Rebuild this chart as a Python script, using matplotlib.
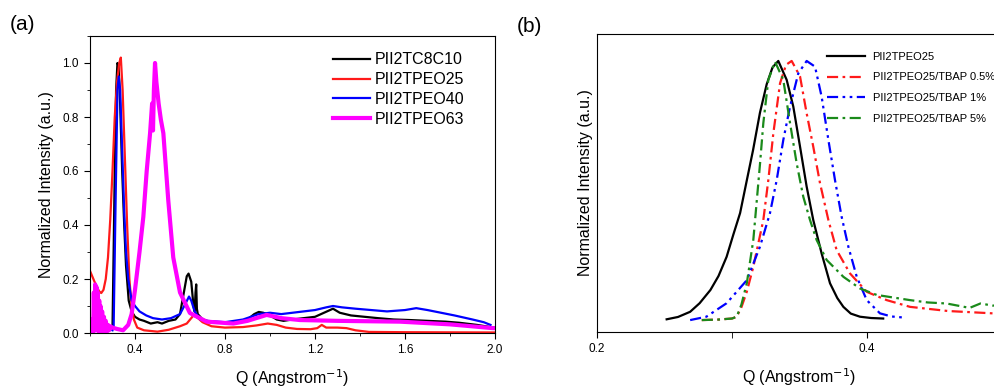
import numpy as np
import matplotlib
matplotlib.use("Agg")
import matplotlib.pyplot as plt
from matplotlib.ticker import MultipleLocator

plt.rcParams['font.family'] = ['Liberation Sans', 'DejaVu Sans']

# ---- panel (a) data ----
q_c8 = [0.300, 0.305, 0.310, 0.316, 0.322, 0.327, 0.334, 0.343, 0.352, 0.360, 0.372, 0.385,
        0.400, 0.420, 0.440, 0.470, 0.500, 0.520, 0.550, 0.580, 0.600, 0.615, 0.630, 0.638,
        0.650, 0.660, 0.665, 0.669, 0.672, 0.675, 0.679, 0.690, 0.700, 0.720, 0.750, 0.800,
        0.850, 0.900, 0.930, 0.950, 0.970, 1.000, 1.030, 1.060, 1.100, 1.150, 1.200, 1.240,
        1.280, 1.310, 1.360, 1.420, 1.480, 1.550, 1.620, 1.700, 1.780, 1.840, 1.920, 1.980, 2.000]
i_c8 = [0.02, 0.30, 0.60, 0.90, 1.00, 0.99, 0.85, 0.60, 0.40, 0.25, 0.12, 0.08,
        0.060, 0.050, 0.045, 0.035, 0.040, 0.035, 0.045, 0.050, 0.070, 0.140, 0.210, 0.220,
        0.190, 0.100, 0.080, 0.150, 0.180, 0.090, 0.070, 0.060, 0.050, 0.045, 0.040, 0.038,
        0.042, 0.050, 0.070, 0.078, 0.075, 0.065, 0.050, 0.045, 0.050, 0.055, 0.060, 0.075,
        0.090, 0.075, 0.065, 0.060, 0.055, 0.050, 0.048, 0.045, 0.042, 0.038, 0.030, 0.022, 0.020]

q_p25 = [0.200, 0.220, 0.240, 0.250, 0.260, 0.270, 0.280, 0.290, 0.300, 0.310, 0.320, 0.330,
         0.337, 0.345, 0.355, 0.365, 0.375, 0.385, 0.395, 0.410, 0.440, 0.500, 0.550, 0.600,
         0.630, 0.660, 0.680, 0.700, 0.740, 0.800, 0.880, 0.940, 0.990, 1.030, 1.070, 1.120,
         1.180, 1.210, 1.230, 1.250, 1.300, 1.340, 1.380, 1.440, 1.600, 2.000]
i_p25 = [0.230, 0.190, 0.155, 0.148, 0.160, 0.200, 0.280, 0.420, 0.600, 0.800, 0.930, 1.000,
         1.020, 0.900, 0.650, 0.400, 0.200, 0.100, 0.050, 0.020, 0.010, 0.005, 0.012, 0.025,
         0.035, 0.065, 0.055, 0.040, 0.025, 0.020, 0.022, 0.028, 0.035, 0.030, 0.020, 0.015,
         0.014, 0.018, 0.030, 0.020, 0.020, 0.018, 0.010, 0.004, 0.003, 0.002]

q_p40 = [0.300, 0.305, 0.314, 0.322, 0.328, 0.334, 0.342, 0.352, 0.360, 0.370, 0.385, 0.400,
         0.420, 0.450, 0.480, 0.520, 0.560, 0.600, 0.625, 0.640, 0.650, 0.665, 0.690, 0.720,
         0.800, 0.880, 0.950, 1.000, 1.050, 1.100, 1.150, 1.200, 1.250, 1.280, 1.320, 1.380,
         1.450, 1.520, 1.600, 1.650, 1.700, 1.760, 1.820, 1.900, 1.950, 1.980]
i_p40 = [0.010, 0.020, 0.500, 0.900, 0.950, 0.900, 0.700, 0.450, 0.300, 0.200, 0.120, 0.100,
         0.080, 0.065, 0.055, 0.050, 0.055, 0.070, 0.110, 0.135, 0.120, 0.080, 0.050, 0.045,
         0.040, 0.050, 0.070, 0.075, 0.070, 0.075, 0.080, 0.085, 0.095, 0.100, 0.095, 0.090,
         0.085, 0.080, 0.085, 0.092, 0.085, 0.075, 0.065, 0.050, 0.040, 0.030]

q_p63 = [0.205, 0.210, 0.214, 0.217, 0.220, 0.223, 0.226, 0.229, 0.232, 0.235, 0.238, 0.241,
         0.244, 0.247, 0.250, 0.254, 0.258, 0.262, 0.266, 0.270, 0.275, 0.280, 0.285, 0.290,
         0.300, 0.320, 0.347, 0.370, 0.385, 0.400, 0.420, 0.437, 0.452, 0.467, 0.476, 0.480,
         0.484, 0.489, 0.495, 0.505, 0.515, 0.526, 0.548, 0.570, 0.600, 0.644, 0.719, 0.837,
         0.900, 0.985, 1.050, 1.133, 1.300, 1.578, 1.800, 1.990, 2.000]
i_p63 = [0.000, 0.050, 0.000, 0.150, 0.010, 0.180, 0.020, 0.170, 0.010, 0.150, 0.005, 0.120,
         0.005, 0.100, 0.005, 0.080, 0.005, 0.060, 0.005, 0.045, 0.005, 0.030, 0.010, 0.025,
         0.020, 0.015, 0.010, 0.030, 0.070, 0.160, 0.300, 0.430, 0.600, 0.740, 0.850, 0.750,
         0.900, 1.000, 0.930, 0.850, 0.790, 0.740, 0.490, 0.280, 0.150, 0.074, 0.042, 0.035,
         0.045, 0.067, 0.055, 0.048, 0.045, 0.042, 0.032, 0.018, 0.018]

# ---- panel (b) data ----
q_b0 = [0.2516, 0.260, 0.269, 0.276, 0.284, 0.290, 0.296, 0.301, 0.306, 0.311, 0.3156,
        0.3207, 0.3257, 0.3300, 0.3343, 0.3405, 0.3454, 0.3504, 0.3553, 0.3602, 0.3664,
        0.3726, 0.3780, 0.3825, 0.3880, 0.3948, 0.4030, 0.4120]
i_b0 = [0.003, 0.012, 0.032, 0.065, 0.116, 0.170, 0.244, 0.330, 0.413, 0.540, 0.656,
        0.800, 0.910, 0.975, 1.000, 0.927, 0.824, 0.669, 0.515, 0.386, 0.257,
        0.142, 0.085, 0.051, 0.025, 0.013, 0.008, 0.006]

q_b05 = [0.2776, 0.290, 0.300, 0.3035, 0.3070, 0.3110, 0.3158, 0.3232, 0.3269, 0.3306,
         0.3356, 0.3400, 0.3442, 0.3504, 0.3553, 0.3602, 0.3652, 0.3714, 0.3775, 0.3874,
         0.3998, 0.4146, 0.4319, 0.460, 0.493, 0.500]
i_b05 = [0.000, 0.002, 0.006, 0.013, 0.050, 0.110, 0.206, 0.386, 0.540, 0.720,
         0.914, 0.985, 1.000, 0.940, 0.798, 0.669, 0.528, 0.386, 0.270, 0.180,
         0.109, 0.077, 0.051, 0.035, 0.026, 0.025]

q_b1 = [0.269, 0.281, 0.296, 0.311, 0.3207, 0.3281, 0.3331, 0.338, 0.343, 0.3491,
        0.3553, 0.3615, 0.3664, 0.3714, 0.3763, 0.3812, 0.3862, 0.3924, 0.3998, 0.4096,
        0.4180, 0.4267]
i_b1 = [0.000, 0.013, 0.065, 0.154, 0.283, 0.412, 0.540, 0.695, 0.824, 0.952,
        1.000, 0.978, 0.862, 0.695, 0.540, 0.399, 0.283, 0.167, 0.077, 0.026,
        0.014, 0.010]

q_b5 = [0.2776, 0.290, 0.300, 0.3035, 0.307, 0.311, 0.3158, 0.3207, 0.3232, 0.3269,
        0.3319, 0.338, 0.343, 0.3479, 0.3528, 0.3578, 0.3627, 0.3701, 0.3825, 0.3948,
        0.4072, 0.4319, 0.445, 0.459, 0.476, 0.484, 0.493, 0.500]
i_b5 = [0.000, 0.002, 0.006, 0.013, 0.060, 0.143, 0.310, 0.600, 0.760, 0.927,
        0.997, 0.927, 0.760, 0.605, 0.476, 0.386, 0.309, 0.232, 0.167, 0.122,
        0.097, 0.077, 0.068, 0.064, 0.047, 0.064, 0.056, 0.056]

fig = plt.figure(figsize=(9.94, 3.87), dpi=100)
ax1 = fig.add_axes([90/994, 1-333/387, 405/994, 297/387])
ax2 = fig.add_axes([597/994, 1-332/387, 405/994, 298/387])

# panel (a)
ax1.plot(q_c8, i_c8, color='black', lw=1.6, label='PII2TC8C10')
ax1.plot(q_p25, i_p25, color='#ff1a1a', lw=1.6, label='PII2TPEO25')
ax1.plot(q_p40, i_p40, color='#0000ff', lw=1.6, label='PII2TPEO40')
ax1.plot(q_p63, i_p63, color='#ff00ff', lw=3.0, label='PII2TPEO63')
ax1.set_xlim(0.2, 2.0)
ax1.set_ylim(0, 1.1)
ax1.set_xticks([0.4, 0.8, 1.2, 1.6, 2.0])
ax1.xaxis.set_minor_locator(MultipleLocator(0.2))
ax1.yaxis.set_major_locator(MultipleLocator(0.2))
ax1.yaxis.set_minor_locator(MultipleLocator(0.1))
ax1.tick_params(which='major', direction='out', length=4, labelsize=8.5, pad=4)
ax1.tick_params(which='minor', direction='out', length=2.5)
ax1.set_xlabel('Q (Angstrom$^{-1}$)', fontsize=11.5)
ax1.set_ylabel('Normalized Intensity (a.u.)', fontsize=11.5)
ax1.yaxis.set_label_coords(-0.09, 0.5)
ax1.xaxis.set_label_coords(0.5, -0.115)
ax1.legend(loc='upper left', bbox_to_anchor=(0.6, 0.945), frameon=False, fontsize=11.5,
           handlelength=2.3, handletextpad=0.3, labelspacing=0.3, borderpad=0, borderaxespad=0)

# panel (b)
ax2.plot(q_b0, i_b0, color='black', lw=1.6, label='PII2TPEO25')
ax2.plot(q_b05, i_b05, color='#ff1a1a', lw=1.6, ls=(0, (5, 2, 1.2, 2)), label='PII2TPEO25/TBAP 0.5%')
ax2.plot(q_b1, i_b1, color='#0000ff', lw=1.6, ls=(0, (5, 2, 1.2, 2, 1.2, 2)), label='PII2TPEO25/TBAP 1%')
ax2.plot(q_b5, i_b5, color='#1a8a1a', lw=1.6, ls=(0, (5, 2, 1.2, 2)), label='PII2TPEO25/TBAP 5%')
ax2.set_xlim(0.2, 0.5)
ax2.set_ylim(-0.046, 1.104)
ax2.set_xticks([0.2, 0.4])
ax2.xaxis.set_minor_locator(MultipleLocator(0.1))
ax2.set_yticks([])
ax2.tick_params(which='major', direction='out', length=4, labelsize=8.5, pad=4)
ax2.tick_params(which='minor', direction='out', length=4)
ax2.set_xlabel('Q (Angstrom$^{-1}$)', fontsize=11.5)
ax2.set_ylabel('Normalized Intensity (a.u.)', fontsize=11.5)
ax2.yaxis.set_label_coords(-0.01, 0.5)
ax2.xaxis.set_label_coords(0.5, -0.115)
ax2.legend(loc='upper left', bbox_to_anchor=(0.568, 0.94), frameon=False, fontsize=8,
           handlelength=3.4, handletextpad=0.7, labelspacing=0.95, borderpad=0, borderaxespad=0)

fig.text(10/994, 1-24/387, '(a)', fontsize=15, va='center', ha='left')
fig.text(517/994, 1-27/387, '(b)', fontsize=15, va='center', ha='left')

fig.savefig('out.png', dpi=100)
